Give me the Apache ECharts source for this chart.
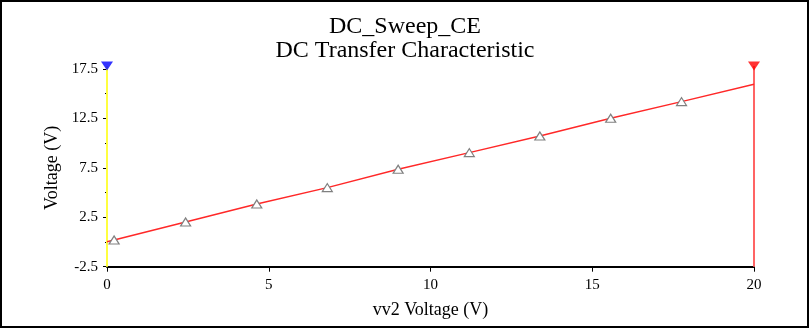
<!DOCTYPE html>
<html>
<head>
<meta charset="utf-8">
<style>
  html, body { margin: 0; padding: 0; background: #ffffff; }
  #chart { width: 810px; height: 329px; }
</style>
<script src="https://cdn.jsdelivr.net/npm/echarts@6/dist/echarts.min.js"></script>
</head>
<body>
<div id="chart"></div>
<script>
// DC sweep of vv2: output voltage vs. source voltage
var sweepV = [0, 0.22, 2.43, 4.63, 6.81, 9.0, 11.2, 13.38, 15.57, 17.76, 20];
var outV   = [0.03, 0.2, 2.02, 3.85, 5.5, 7.36, 9.04, 10.73, 12.52, 14.2, 15.95];
// indices of sweep points that carry a probe marker
var markerIdx = [1, 2, 3, 4, 5, 6, 7, 8, 9];

// measurement cursors (x position, colour) and their top end
var cursorX = [0, 20];
var cursorLineColor = ['#ffff40', '#ff6464'];
var cursorFlagColor = ['#0000ff', '#ff0000'];
var cursorBottom = -2.5;
var cursorTop = 17.8;

var xTicks = { min: 0, max: 20, interval: 5 };
var yTicks = { min: -2.5, max: 17.5, interval: 5 };

var serif = 'Liberation Serif, Times New Roman, serif';

var curveData = sweepV.map(function (x, i) {
  var item = { value: [x, outV[i]] };
  if (markerIdx.indexOf(i) < 0) item.symbol = 'none';
  return item;
});

var cursorSeries = cursorX.map(function (x, k) {
  return {
    type: 'line',
    clip: false,
    silent: true,
    z: 1,
    lineStyle: { color: cursorLineColor[k], width: 2 },
    symbol: 'none',
    data: [[x, cursorBottom], [x, cursorTop]]
  };
});

var flagSeries = {
  type: 'scatter',
  clip: false,
  silent: true,
  z: 3,
  symbol: 'triangle',
  symbolSize: [12, 9],
  symbolRotate: 180,
  data: cursorX.map(function (x, k) {
    return { value: [x, cursorTop], itemStyle: { color: cursorFlagColor[k] } };
  })
};

var chart = echarts.init(document.getElementById('chart'), null, { renderer: 'canvas' });
chart.setOption({
  backgroundColor: '#ffffff',
  animation: false,
  title: {
    text: 'DC_Sweep_CE\nDC Transfer Characteristic',
    left: 400,
    top: 10,
    textAlign: 'center',
    textStyle: {
      fontFamily: serif,
      fontSize: 24,
      fontWeight: 'normal',
      lineHeight: 24,
      color: '#000000'
    }
  },
  grid: { left: 107, right: 56, top: 69, bottom: 62.3 },
  xAxis: {
    type: 'value',
    min: xTicks.min,
    max: xTicks.max,
    interval: xTicks.interval,
    name: 'vv2 Voltage (V)',
    nameLocation: 'middle',
    nameGap: 35,
    nameTextStyle: { fontFamily: serif, fontSize: 18, color: '#000000' },
    axisLine: { show: true, onZero: false, lineStyle: { color: '#000000', width: 2 } },
    axisTick: { show: true, length: 5, lineStyle: { color: '#000000' } },
    axisLabel: { fontFamily: serif, fontSize: 15, color: '#000000', margin: 11 },
    splitLine: { show: false }
  },
  yAxis: {
    type: 'value',
    min: yTicks.min,
    max: yTicks.max,
    interval: yTicks.interval,
    name: 'Voltage (V)',
    nameLocation: 'middle',
    nameGap: 44,
    nameRotate: 90,
    nameTextStyle: { fontFamily: serif, fontSize: 18, color: '#000000' },
    axisLine: { show: false },
    axisTick: { show: true, length: 4, lineStyle: { color: '#000000' } },
    minorTick: { show: true, splitNumber: 2, length: 2, lineStyle: { color: '#000000' } },
    axisLabel: { fontFamily: serif, fontSize: 15, color: '#000000', margin: 9 },
    splitLine: { show: false }
  },
  graphic: [{
    type: 'rect',
    shape: { x: 1, y: 1, width: 807, height: 326 },
    style: { fill: 'none', stroke: '#000000', lineWidth: 2 },
    silent: true,
    z: 100
  }],
  series: cursorSeries.concat([
    {
      type: 'line',
      z: 2,
      data: curveData,
      lineStyle: { color: '#ff2828', width: 1.5 },
      symbol: 'triangle',
      symbolSize: [10, 8],
      itemStyle: { color: '#ffffff', borderColor: '#808080', borderWidth: 1.2 },
      showSymbol: true
    },
    flagSeries
  ])
});
</script>
</body>
</html>
